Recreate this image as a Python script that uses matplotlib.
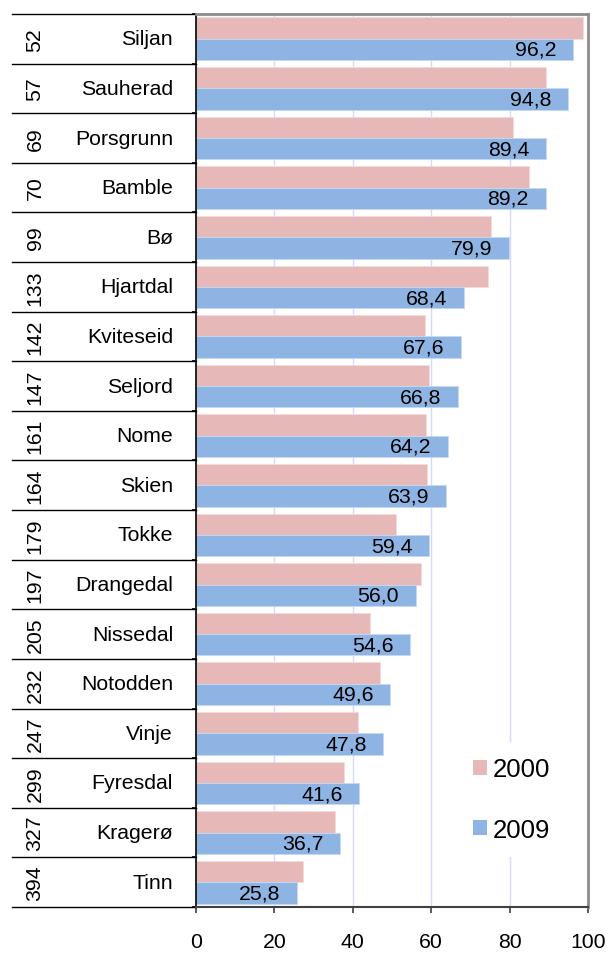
import numpy as np
import matplotlib.pyplot as plt
from matplotlib.patches import Patch
from matplotlib.transforms import blended_transform_factory

plt.rcParams["font.family"] = ["Liberation Sans", "DejaVu Sans"]

# ------------------------------------------------
# data
names = ["Siljan", "Sauherad", "Porsgrunn", "Bamble", "Bø", "Hjartdal",
         "Kviteseid", "Seljord", "Nome", "Skien", "Tokke", "Drangedal",
         "Nissedal", "Notodden", "Vinje", "Fyresdal", "Kragerø", "Tinn"]
ranks = ["52", "57", "69", "70", "99", "133", "142", "147", "161", "164",
         "179", "197", "205", "232", "247", "299", "327", "394"]
v2000 = [98.8, 89.3, 80.8, 84.9, 75.3, 74.6, 58.3, 59.4, 58.7, 58.9,
         51.0, 57.5, 44.5, 46.9, 41.2, 37.7, 35.5, 27.2]
v2009 = [96.2, 94.8, 89.4, 89.2, 79.9, 68.4, 67.6, 66.8, 64.2, 63.9,
         59.4, 56.0, 54.6, 49.6, 47.8, 41.6, 36.7, 25.8]
xticks = [0, 20, 40, 60, 80, 100]

PINK = "#E6B8B7"
BLUE = "#8EB4E3"
FS = 15.3

fig = plt.figure(figsize=(6.08, 9.54), dpi=100)
ax = fig.add_axes([0.3224, 0.0482, 0.6447, 0.9361])

y = np.arange(len(names))
h = 0.43
ax.barh(y - h / 2, v2000, height=h, color=PINK, edgecolor="#F2DCDB",
        linewidth=0.6, zorder=2, label="2000")
ax.barh(y + h / 2, v2009, height=h, color=BLUE, edgecolor="#C6D9F1",
        linewidth=0.6, zorder=2, label="2009")

# value labels on the 2009 bars (inside end)
for yi, v in zip(y, v2009):
    ax.annotate(("%.1f" % v).replace(".", ","), xy=(v, yi + h / 2),
                xytext=(-12, 0), textcoords="offset points",
                ha="right", va="center", fontsize=FS, zorder=3)

ax.set_xlim(0, 100)
ax.set_ylim(len(names) - 0.5, -0.5)
ax.set_xticks(xticks)
ax.set_xticklabels([str(t) for t in xticks], fontsize=FS)
ax.tick_params(axis="x", length=4, width=1.2, color="#404040", pad=14)
ax.set_yticks(np.arange(len(names) + 1) - 0.5)
ax.set_yticklabels([])
ax.tick_params(axis="y", length=3, width=1.2, color="black")

ax.xaxis.grid(True, color="#D8D8FF", linewidth=1.0, zorder=0)
ax.set_axisbelow(True)

for s in ["top", "right"]:
    ax.spines[s].set_color("#8C8C8C")
    ax.spines[s].set_linewidth(2.0)
ax.spines["left"].set_color("black")
ax.spines["left"].set_linewidth(1.2)
ax.spines["bottom"].set_color("#404040")
ax.spines["bottom"].set_linewidth(1.5)

# table on the left: rank and municipality name
tr = blended_transform_factory(ax.transAxes, ax.transData)
x_line0 = (12 - 196) / 392.0
x_rank = (35 - 196) / 392.0
x_name = (173 - 196) / 392.0
for b in np.arange(len(names) + 1) - 0.5:
    ax.plot([x_line0, 0], [b, b], transform=tr, color="black",
            linewidth=1.0, clip_on=False)
for yi, r, n in zip(y, ranks, names):
    ax.text(x_rank, yi, r, transform=tr, rotation=90, ha="center",
            va="center", fontsize=FS)
    ax.text(x_name, yi, n, transform=tr, ha="right", va="center",
            fontsize=FS)

handles = [Patch(facecolor=PINK, edgecolor="none"),
           Patch(facecolor=BLUE, edgecolor="none")]
leg = ax.legend(handles, ["2000", "2009"], loc="center",
                bbox_to_anchor=(0.805, 0.1204), fontsize=18.5,
                handlelength=0.55, handleheight=0.55, handletextpad=0.25,
                labelspacing=1.41, borderpad=0.6, frameon=True,
                fancybox=False, framealpha=1)
leg.get_frame().set_edgecolor("none")
leg.set_zorder(4)

fig.savefig("out.png", dpi=100)
